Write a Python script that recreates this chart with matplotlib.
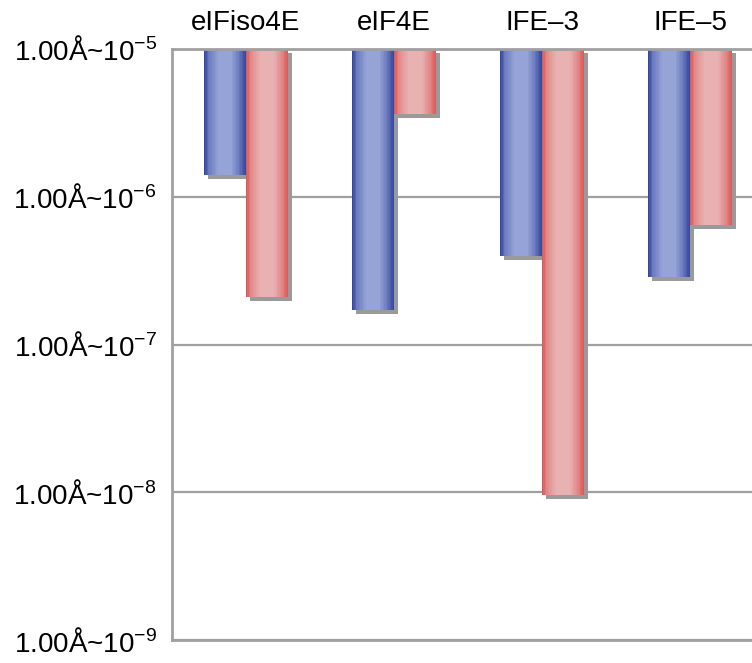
import numpy as np
import matplotlib
matplotlib.use("Agg")
import matplotlib.pyplot as plt
from matplotlib.transforms import offset_copy

plt.rcParams['font.family'] = ['Liberation Sans', 'DejaVu Sans']
plt.rcParams['mathtext.fontset'] = 'custom'
plt.rcParams['mathtext.rm'] = 'Liberation Sans'
plt.rcParams['mathtext.it'] = 'Liberation Sans:italic'
plt.rcParams['mathtext.bf'] = 'Liberation Sans:bold'

# data
proteins = ["eIFiso4E", "eIF4E", "IFE\u20133", "IFE\u20135"]
blue_vals = [1.40e-6, 1.71e-7, 3.98e-7, 2.86e-7]
red_vals = [2.10e-7, 3.63e-6, 9.6e-9, 6.45e-7]
top = 1e-5
ticks = [1e-9, 1e-8, 1e-7, 1e-6, 1e-5]
tick_labels = [r"1.00Å~10$^{-%d}$" % k for k in [9, 8, 7, 6, 5]]

# colour profile across a bar (left edge -> right edge)
prof = [0.0, 0.12, 0.35, 0.65, 0.85, 1.0]
blue_dark = np.array([0x2a, 0x3d, 0x98]) / 255
blue_light = np.array([0x96, 0xa3, 0xd6]) / 255
red_dark = np.array([0xd8, 0x50, 0x50]) / 255
red_light = np.array([0xe9, 0xb2, 0xb2]) / 255
mix = [0.0, 0.6, 1.0, 1.0, 0.55, 0.05]

def grad_bar(ax, x0, w, val, dark, light, n=30):
    xs = x0 + np.arange(n) * w / n
    t = (np.arange(n) + 0.5) / n
    m = np.interp(t, prof, mix)
    for xi, mi in zip(xs, m):
        c = dark + (light - dark) * mi
        ax.bar(xi, top - val, bottom=val, width=w / n * 1.02, align='edge',
               color=c, linewidth=0, zorder=3)

fig = plt.figure(figsize=(7.52, 6.63), dpi=100)
ax = fig.add_axes([172 / 752, 23 / 663, 592 / 752, 591 / 663])
ax.set_yscale('log')
ax.set_ylim(1e-9, 1e-5)
ax.set_xlim(-0.5, 3.5)

w = 0.285
x = np.arange(len(proteins))
shadow = offset_copy(ax.transData, fig=fig, x=4, y=-4, units='dots')
for i in range(len(proteins)):
    ax.bar(x[i] - w, top - blue_vals[i], bottom=blue_vals[i], width=w, align='edge',
           color='#9a9a9a', linewidth=0, zorder=2, transform=shadow)
    ax.bar(x[i], top - red_vals[i], bottom=red_vals[i], width=w, align='edge',
           color='#9a9a9a', linewidth=0, zorder=2, transform=shadow)
    grad_bar(ax, x[i] - w, w, blue_vals[i], blue_dark, blue_light)
    grad_bar(ax, x[i], w, red_vals[i], red_dark, red_light)

ax.set_yticks(ticks)
ax.set_yticklabels(tick_labels, fontsize=20)
ax.yaxis.set_minor_locator(matplotlib.ticker.NullLocator())
ax.tick_params(axis='y', length=0, pad=11)
ax.set_xticks(x)
ax.set_xticklabels(proteins, fontsize=20)
ax.xaxis.tick_top()
ax.tick_params(axis='x', length=0, pad=9)
ax.grid(True, axis='y', color='#a0a0a0', linewidth=1.6, zorder=1)
ax.set_axisbelow(True)
for s in ax.spines.values():
    s.set_color('#a0a0a0')
    s.set_linewidth(2)
    s.set_zorder(5)

fig.savefig("out.png", dpi=100)
